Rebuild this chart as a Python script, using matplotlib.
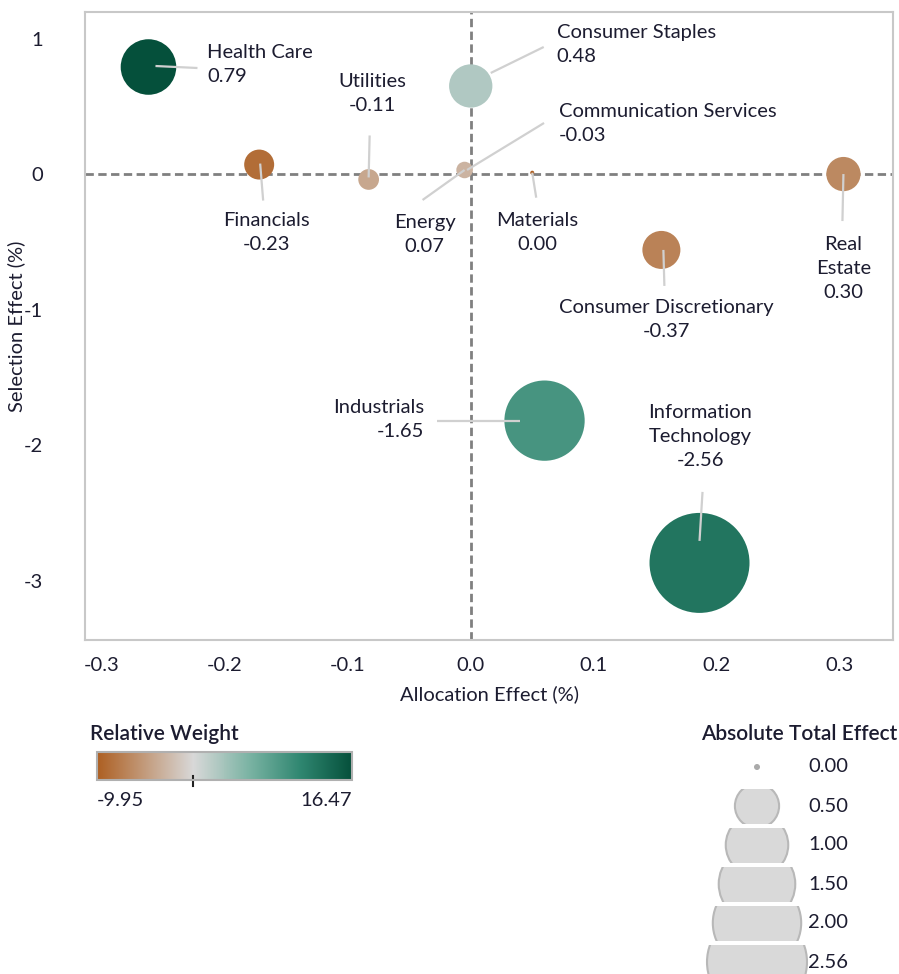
import numpy as np
import matplotlib
matplotlib.use("Agg")
import matplotlib.pyplot as plt
from matplotlib.colors import LinearSegmentedColormap, Normalize
from matplotlib.cm import ScalarMappable
from matplotlib.patches import Circle, Rectangle

plt.rcParams["font.family"] = ["Lato", "DejaVu Sans"]
TEXT = "#1c1c30"
FS = 14.5

# Data
sectors = ["Health Care", "Consumer Staples", "Utilities", "Communication Services",
           "Energy", "Materials", "Financials", "Real\nEstate",
           "Consumer Discretionary", "Industrials", "Information\nTechnology"]
alloc = [-0.262, 0.0, -0.083, -0.003, -0.005, 0.050, -0.172, 0.303, 0.155, 0.060, 0.186]
select = [0.79, 0.65, -0.04, 0.03, 0.03, 0.01, 0.07, 0.0, -0.56, -1.82, -2.87]
total = [0.79, 0.48, -0.11, -0.03, 0.07, 0.00, -0.23, 0.30, -0.37, -1.65, -2.56]
rel_weight = [16.47, 2.5, -4.0, -3.0, -3.0, -9.95, -8.8, -6.5, -7.0, 9.5, 12.8]
size_legend = [0.00, 0.50, 1.00, 1.50, 2.00, 2.56]
w_min, w_max = -9.95, 16.47

# label layout: text offset (px, y down), alignment, leader line start/end (px, y down)
label_pos = [
    ((59, -2.5), "left", (7, -1), (49, 1)),
    ((86, -41.5), "left", (20, -13), (73, -39)),
    ((4, -85.5), "center", (0, -2), (1, -44)),
    ((92, -46.5), "left", (0, 0), (77, -47)),
    ((-40, 64.5), "center", (0, 0), (-42, 30)),
    ((5, 59.5), "center", (0, 0), (4, 25)),
    ((7, 67.5), "center", (1, -1), (4, 36)),
    ((0, 94), "center", (0, 0), (-1, 47)),
    ((5, 69.5), "center", (2, 0), (3, 36)),
    ((-120, -1.5), "right", (-108, 0), (-25, 0)),
    ((1, -126.5), "center", (3, -71), (0, -22)),
]

max_r_px = 50.0
min_r_px = 2.0


def radius_px(v):
    return max(max_r_px * np.sqrt(abs(v) / max(size_legend)), min_r_px)


zero_frac = (0 - w_min) / (w_max - w_min)
cmap = LinearSegmentedColormap.from_list("rw", [
    (0.0, "#ad5f22"), (zero_frac, "#d8d8d8"), (0.6, "#7ab3a3"),
    (0.8, "#2f8670"), (1.0, "#05503b")])
norm = Normalize(w_min, w_max)

fig = plt.figure(figsize=(8.99, 9.74), dpi=100)
ax = fig.add_axes([85 / 899, 1 - 640 / 974, 808 / 899, 628 / 974])
ax.set_xlim(-0.3136, 0.3433)
ax.set_ylim(-3.439, 1.196)

ax.axhline(0, color="#808080", lw=2, ls=(0, (3, 1.6)), zorder=1)
ax.axvline(0, color="#808080", lw=2, ls=(0, (3, 1.6)), zorder=1)

sizes = [(2 * radius_px(t) * 0.72) ** 2 for t in total]
ax.scatter(alloc, select, s=sizes, c=rel_weight, cmap=cmap, norm=norm,
           linewidths=0, zorder=2)

for name, x, y, t, (toff, ha, l0, l1) in zip(sectors, alloc, select, total, label_pos):
    ax.annotate(f"{name}\n{t:.2f}", xy=(x, y), xytext=(toff[0], -toff[1]),
                textcoords="offset pixels", ha=ha, va="center", multialignment=ha,
                fontsize=FS, color=TEXT, linespacing=1.5, zorder=4)
    cx, cy = ax.transData.transform((x, y))
    ax.plot([cx + l0[0], cx + l1[0]], [cy - l0[1], cy - l1[1]], transform=None,
            color="#d0d0d0", lw=1.6, zorder=3, solid_capstyle="butt")

ax.set_xticks([-0.3, -0.2, -0.1, 0.0, 0.1, 0.2, 0.3])
ax.set_xticklabels(["-0.3", "-0.2", "-0.1", "0.0", "0.1", "0.2", "0.3"])
ax.set_yticks([1, 0, -1, -2, -3])
ax.set_yticklabels(["1", "0", "-1", "-2", "-3"])
ax.tick_params(length=0, labelsize=FS, labelcolor=TEXT)
ax.tick_params(axis="x", pad=12)
ax.tick_params(axis="y", pad=30)
ax.set_xlabel("Allocation Effect (%)", fontsize=FS, color=TEXT, labelpad=8)
ax.set_ylabel("Selection Effect (%)", fontsize=FS, color=TEXT)
ax.yaxis.set_label_coords(-0.074, 0.5)
for sp in ax.spines.values():
    sp.set_color("#c8c8c8")
    sp.set_linewidth(1.5)

# colour legend
cax = fig.add_axes([97 / 899, 1 - 780 / 974, 255 / 899, 28 / 974])
cb = fig.colorbar(ScalarMappable(norm=norm, cmap=cmap), cax=cax, orientation="horizontal")
cb.set_ticks([])
cb.outline.set_edgecolor("#b0b0b0")
cb.outline.set_linewidth(1.5)
cax.plot([0, 0], [-0.2, 0.15], color="#222222", lw=1.5, clip_on=False)
fig.text(90 / 899, 1 - 734 / 974, "Relative Weight", fontsize=15, fontweight="semibold",
         color=TEXT, ha="left", va="center")
fig.text(97 / 899, 1 - 800 / 974, f"{w_min:.2f}", fontsize=FS, color=TEXT, ha="left", va="center")
fig.text(352 / 899, 1 - 800 / 974, f"{w_max:.2f}", fontsize=FS, color=TEXT, ha="right", va="center")

# size legend, drawn in pixel units
lax = fig.add_axes([0, 0, 1, 1])
lax.set_xlim(0, 899)
lax.set_ylim(974, 0)
lax.axis("off")
lax.text(897, 734, "Absolute Total Effect", fontsize=15, fontweight="semibold",
         color=TEXT, ha="right", va="center")
for i, v in enumerate(size_legend):
    cy = 767 + 39 * i
    r = radius_px(v) if v > 0 else 3
    band = Rectangle((690, cy - 17.5), 140, 35, transform=lax.transData)
    circ = Circle((757, cy), r, facecolor="#d9d9d9" if v > 0 else "#aaaaaa",
                  edgecolor="#b8b8b8", lw=1.5 if v > 0 else 0)
    lax.add_patch(circ)
    circ.set_clip_path(band)
    lax.text(808, cy, f"{v:.2f}", fontsize=FS, color=TEXT, ha="left", va="center")

fig.savefig("out.png", dpi=100)
